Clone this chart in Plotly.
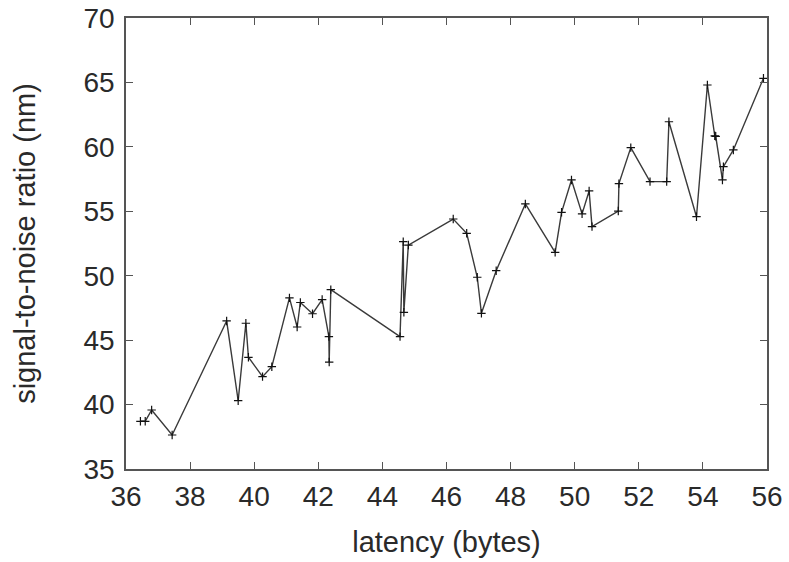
import plotly.graph_objects as go

latency = [36.45, 36.6, 36.8, 37.44, 39.14, 39.50, 39.74, 39.82, 40.26, 40.55,
           41.10, 41.34, 41.44, 41.82, 42.12, 42.33, 42.34, 42.39, 44.55, 44.65,
           44.67, 44.81, 46.21, 46.63, 46.96, 47.09, 47.55, 48.46, 49.39, 49.59,
           49.90, 50.23, 50.45, 50.54, 51.36, 51.38, 51.75, 52.35, 52.87, 52.94,
           53.80, 54.14, 54.37, 54.40, 54.61, 54.64, 54.95, 55.89]
snr = [38.7, 38.7, 39.58, 37.64, 46.49, 40.30, 46.31, 43.67, 42.17, 42.94,
       48.28, 46.02, 47.92, 47.05, 48.15, 45.27, 43.30, 48.92, 45.27, 52.64,
       47.16, 52.38, 54.40, 53.29, 49.88, 47.08, 50.39, 55.57, 51.81, 54.92,
       57.43, 54.80, 56.58, 53.81, 55.02, 57.15, 59.94, 57.30, 57.30, 61.95,
       54.58, 64.80, 60.86, 60.82, 57.43, 58.46, 59.76, 65.32]

FONT = "Liberation Sans, Arial"

fig = go.Figure(go.Scatter(
    x=latency, y=snr, mode="lines+markers",
    line=dict(color="#3a3a3a", width=1.4),
    marker=dict(symbol="cross-thin", size=6, line=dict(color="#111111", width=1.2), color="#111111"),
    showlegend=False,
))

axis_common = dict(
    showline=True, linecolor="#555555", linewidth=1.5, mirror="ticks",
    ticks="inside", ticklen=7, tickcolor="#555555", tickwidth=1,
    showgrid=False, zeroline=False, automargin=False,
    tickfont=dict(family=FONT, size=28, color="#2a2a2a"),
)

fig.update_layout(
    width=789, height=562,
    margin=dict(l=126, r=22, t=18, b=93),
    plot_bgcolor="white", paper_bgcolor="white",
    xaxis=dict(range=[36, 56], dtick=2, tick0=36, ticklabelstandoff=2,
               title=dict(text="latency (bytes)", font=dict(family=FONT, size=29, color="#2a2a2a"), standoff=20),
               **axis_common),
    yaxis=dict(range=[35, 70], dtick=5, tick0=35, ticklabelstandoff=4,
               title=dict(text="signal-to-noise ratio (nm)", font=dict(family=FONT, size=29, color="#2a2a2a"), standoff=39),
               **axis_common),
)

fig.write_html("out.html")
